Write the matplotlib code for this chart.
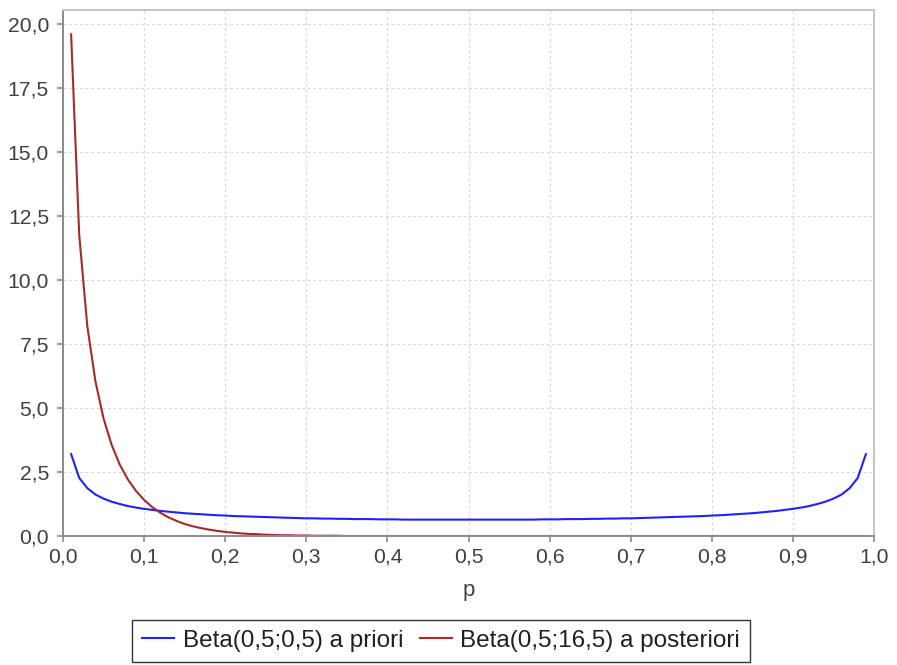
import matplotlib
matplotlib.use("Agg")
import matplotlib.pyplot as plt
from matplotlib.ticker import FuncFormatter, MultipleLocator

# Grid of p values: 0.01 .. 0.99
p = [round(0.01 * i, 2) for i in range(1, 100)]

# Beta(0.5, 0.5) prior density at each p
prior = [
    3.20, 2.27, 1.87, 1.62, 1.46, 1.34, 1.25, 1.17, 1.11, 1.06,
    1.02, 0.98, 0.95, 0.92, 0.89, 0.87, 0.85, 0.83, 0.81, 0.80,
    0.78, 0.77, 0.76, 0.75, 0.74, 0.73, 0.72, 0.71, 0.70, 0.69,
    0.69, 0.68, 0.68, 0.67, 0.67, 0.66, 0.66, 0.66, 0.65, 0.65,
    0.65, 0.64, 0.64, 0.64, 0.64, 0.64, 0.64, 0.64, 0.64, 0.64,
    0.64, 0.64, 0.64, 0.64, 0.64, 0.64, 0.64, 0.64, 0.65, 0.65,
    0.65, 0.66, 0.66, 0.66, 0.67, 0.67, 0.68, 0.68, 0.69, 0.69,
    0.70, 0.71, 0.72, 0.73, 0.74, 0.75, 0.76, 0.77, 0.78, 0.80,
    0.81, 0.83, 0.85, 0.87, 0.89, 0.92, 0.95, 0.98, 1.02, 1.06,
    1.11, 1.17, 1.25, 1.34, 1.46, 1.62, 1.87, 2.27, 3.20,
]

# Beta(0.5, 16.5) posterior density at each p
posterior = [
    19.60, 11.76, 8.19, 6.04, 4.59, 3.56, 2.79, 2.21, 1.76, 1.41,
    1.13, 0.91, 0.73, 0.59, 0.47, 0.38, 0.31, 0.25, 0.20, 0.16,
    0.13, 0.10, 0.08, 0.07, 0.05, 0.04, 0.03, 0.03, 0.02, 0.02,
    0.01, 0.01, 0.01, 0.01,
] + [0.00] * 65

labels = ["Beta(0,5;0,5) a priori", "Beta(0,5;16,5) a posteriori"]
colors = ["#2020ff", "#a52a2a"]

plt.rcParams["font.family"] = ["Liberation Sans", "DejaVu Sans"]

fig = plt.figure(figsize=(8.97, 6.65), dpi=100)
ax = fig.add_axes([63 / 897, (665 - 536) / 665, (874 - 63) / 897, (536 - 10) / 665])

ax.plot(p, prior, color=colors[0], lw=1.5, label=labels[0], solid_joinstyle="round")
ax.plot(p, posterior, color=colors[1], lw=1.5, label=labels[1], solid_joinstyle="round")

ax.set_xlim(0, 1)
ax.set_ylim(0, 20.55)
ax.xaxis.set_major_locator(MultipleLocator(0.1))
ax.yaxis.set_major_locator(MultipleLocator(2.5))
comma = FuncFormatter(lambda v, pos: f"{v:.1f}".replace(".", ","))
ax.xaxis.set_major_formatter(comma)
ax.yaxis.set_major_formatter(comma)

ax.grid(True, color="#d6d6d6", linestyle=(0, (2.5, 2.5)), linewidth=0.8)
ax.set_axisbelow(True)

for side in ("left", "bottom"):
    ax.spines[side].set_color("#8c8c8c")
    ax.spines[side].set_linewidth(1.4)
for side in ("top", "right"):
    ax.spines[side].set_color("#c4c4c4")
    ax.spines[side].set_linewidth(1.4)

ax.tick_params(axis="both", direction="out", length=4, width=1.2, color="#8c8c8c",
               labelsize=15.2, labelcolor="#404040")
ax.tick_params(axis="y", pad=6)
ax.tick_params(axis="x", pad=4)

ax.set_xlabel("p", fontsize=16, color="#404040", labelpad=10)

leg = fig.legend(loc="lower center", bbox_to_anchor=(0.4918, 0.0045), ncol=2,
                 fontsize=17.5, frameon=True, fancybox=False, handlelength=1.3,
                 handletextpad=0.35, columnspacing=0.7, borderpad=0.42,
                 edgecolor="#000000", borderaxespad=0.0)
leg.get_frame().set_linewidth(1.0)
for t in leg.get_texts():
    t.set_color("#202020")

fig.savefig("out.png", dpi=100)
